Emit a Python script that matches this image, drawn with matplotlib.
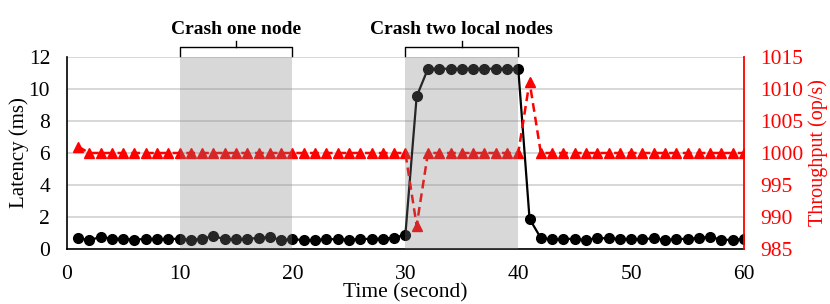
import matplotlib
matplotlib.use("Agg")
import matplotlib.pyplot as plt
import numpy as np

# ---- data ----
time = list(range(1, 61))
latency = [0.69, 0.56, 0.77, 0.66, 0.66, 0.60, 0.65, 0.65, 0.65, 0.65,
           0.58, 0.66, 0.82, 0.63, 0.63, 0.66, 0.70, 0.75, 0.58, 0.62,
           0.58, 0.58, 0.63, 0.63, 0.60, 0.63, 0.66, 0.66, 0.72, 0.90,
           9.52, 11.25, 11.25, 11.25, 11.25, 11.25, 11.25, 11.25, 11.25, 11.25,
           1.90, 0.70, 0.62, 0.65, 0.65, 0.58, 0.70, 0.68, 0.65, 0.65,
           0.63, 0.68, 0.58, 0.63, 0.66, 0.70, 0.78, 0.58, 0.60, 0.63]
throughput = [1001] + [1000] * 29 + [988.7] + [1000] * 9 + [1011.1] + [1000] * 19
crash_periods = [(10, 20), (30, 40)]
crash_labels = ["Crash one node", "Crash two local nodes"]
x_ticks = [0, 10, 20, 30, 40, 50, 60]
lat_ticks = [0, 2, 4, 6, 8, 10, 12]
thr_ticks = [985, 990, 995, 1000, 1005, 1010, 1015]

plt.rcParams['font.family'] = ['Liberation Serif', 'DejaVu Serif']
fs = 15.5

fig = plt.figure(figsize=(8.3, 3.04), dpi=100)
ax = fig.add_axes([0.0804, 0.18, 0.816, 0.6335])
ax2 = ax.twinx()

ax.set_xlim(0, 60)
ax.set_ylim(0, 12)
ax2.set_ylim(985, 1015)

ax.set_yticks(lat_ticks)
ax.set_xticks(x_ticks)
ax2.set_yticks(thr_ticks)
ax.grid(axis='y', color='#d4d4d4', lw=1.3)
ax.set_axisbelow(True)

ax.plot(time, latency, color='black', lw=1.6, marker='o', ms=7, zorder=3)
ax2.plot(time, throughput, color='red', lw=1.8, ls=(0, (3.5, 2)), marker='^', ms=6.5, zorder=3)

for (a, b) in crash_periods:
    ax2.axvspan(a, b, color='#7f7f7f', alpha=0.3, lw=0, zorder=5)

for s in ['top']:
    ax.spines[s].set_visible(False)
    ax2.spines[s].set_visible(False)
ax.spines['right'].set_visible(False)
ax2.spines['left'].set_visible(False)
ax2.spines['bottom'].set_visible(False)
ax2.spines['right'].set_color('red')
ax2.spines['right'].set_linewidth(1.3)
ax.spines['left'].set_linewidth(1.2)
ax.spines['bottom'].set_linewidth(1.2)

ax.tick_params(axis='y', length=0, labelsize=fs, pad=12)
ax.tick_params(axis='x', length=0, labelsize=fs, pad=11)
ax2.tick_params(axis='y', length=0, labelsize=fs, colors='red', pad=11.5)

ax.set_xlabel("Time (second)", fontsize=fs, labelpad=0)
ax.set_ylabel("Latency (ms)", fontsize=15, labelpad=0)
ax2.set_ylabel("Throughput (op/s)", fontsize=14.5, color='red')
ax2.yaxis.set_label_coords(1.109, 0.5)
ax2.yaxis.label.set_va('center')

# brackets & labels above
trans = ax.get_xaxis_transform()
for (a, b), lab in zip(crash_periods, crash_labels):
    m = (a + b) / 2
    yb = 1.0 + 0.005
    ytop = 1.05
    ax.plot([a, a, b, b], [yb, ytop, ytop, yb], transform=trans, color='black',
            lw=1.0, clip_on=False, solid_joinstyle='round')
    ax.plot([m, m], [ytop, ytop + 0.03], transform=trans, color='black',
            lw=1.0, clip_on=False)
    ax.text(m, ytop + 0.045, lab, transform=trans, ha='center', va='bottom',
            fontsize=fs - 1.5, fontweight='bold')

fig.savefig("out.png", dpi=100)
